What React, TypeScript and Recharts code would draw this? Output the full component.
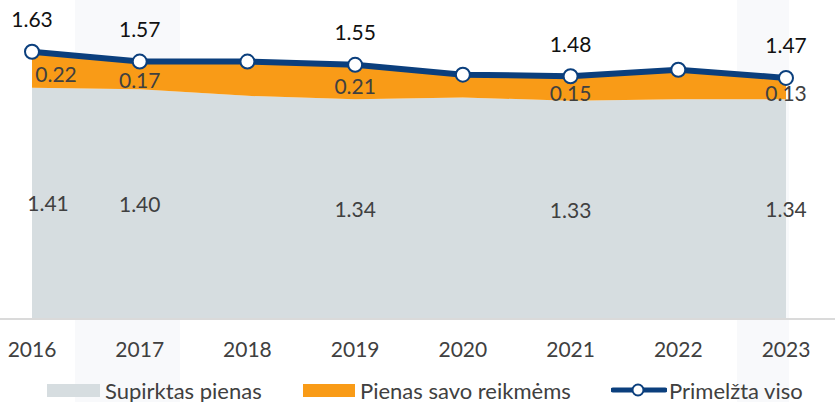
import { ComposedChart, Area, Line, XAxis, YAxis, LabelList, Legend } from "recharts"

const years = ["2016", "2017", "2018", "2019", "2020", "2021", "2022", "2023"]
const supirktas = [1.41, 1.4, 1.36, 1.34, 1.35, 1.33, 1.34, 1.34]
const savoReikmems = [0.22, 0.17, 0.21, 0.21, 0.14, 0.15, 0.18, 0.13]
const primelzta = [1.63, 1.57, 1.57, 1.55, 1.49, 1.48, 1.52, 1.47]
const labeledYears = ["2016", "2017", "2019", "2021", "2023"]

const data = years.map((year, i) => ({
  year,
  supirktas: supirktas[i],
  savo: savoReikmems[i],
  viso: primelzta[i],
}))

const GRAY = "#d6dde0"
const ORANGE = "#f99b17"
const BLUE = "#0b3f7d"
const TEXT = "#404040"
const FONT = "Lato, 'Open Sans', sans-serif"

const showLabel = (index: any) => index === undefined || labeledYears.includes(years[index])

const totalLabel = (props: any) => {
  const { x, y, index, value } = props
  if (!showLabel(index)) return null
  return (
    <text x={x} y={y - 33} textAnchor="middle" dominantBaseline="central" fontSize={21} fill="#111">
      {Number(value).toFixed(2)}
    </text>
  )
}

// first label sits a bit to the right, like in the original
const innerLabel = (shift: number, dy: number) => (props: any) => {
  const { x, y, index, value } = props
  if (!showLabel(index)) return null
  return (
    <text
      x={index === 0 ? x + shift : x}
      y={y + dy}
      textAnchor="middle"
      dominantBaseline="central"
      fontSize={21}
      fill={TEXT}
    >
      {Number(value).toFixed(2)}
    </text>
  )
}

const itemStyle = (left: number): React.CSSProperties => ({
  position: "absolute",
  left,
  top: 0,
  height: 24,
  display: "flex",
  alignItems: "center",
  whiteSpace: "nowrap",
})

const renderLegend = () => (
  <div style={{ position: "relative", height: 24, fontSize: 22, color: TEXT, fontFamily: FONT }}>
    <div style={{ ...itemStyle(47), gap: 5 }}>
      <div style={{ width: 53, height: 13, background: GRAY }}></div>
      <span>Supirktas pienas</span>
    </div>
    <div style={{ ...itemStyle(303), gap: 5 }}>
      <div style={{ width: 52, height: 13, background: ORANGE }}></div>
      <span>Pienas savo reikmėms</span>
    </div>
    <div style={{ ...itemStyle(611), gap: 2 }}>
      <svg width={56} height={14}>
        <line x1={2} y1={7} x2={54} y2={7} stroke={BLUE} strokeWidth={5} strokeLinecap="round" />
        <circle cx={27} cy={7} r={5.5} fill="#fff" stroke={BLUE} strokeWidth={2} />
      </svg>
      <span>Primelžta viso</span>
    </div>
  </div>
)

export default function App() {
  return (
    <div style={{ position: "relative", width: 835, height: 402, background: "#fff", fontFamily: FONT }}>
      <style>{`body{margin:0}`}</style>
      <div style={{ position: "absolute", left: 75, top: 0, width: 105, height: 402, background: "#f8f9fb" }}></div>
      <div style={{ position: "absolute", left: 737, top: 0, width: 52, height: 402, background: "#f8f9fb" }}></div>
      <div style={{ position: "absolute", left: 0, top: 318, width: 835, height: 2, background: "#dadada" }}></div>
      <div style={{ position: "absolute", left: 0, top: 0 }}>
        <ComposedChart
          width={835}
          height={402}
          data={data}
          margin={{ top: 24, right: 49, left: 32, bottom: 0 }}
          style={{ fontFamily: FONT }}
        >
          <XAxis
            dataKey="year"
            scale="point"
            padding={{ left: 0, right: 0 }}
            axisLine={false}
            tickLine={false}
            tickSize={0}
            tickMargin={24}
            height={60}
            tick={{ fill: TEXT, fontSize: 21 }}
          />
          <YAxis hide domain={[0, 1.8]} />
          <Area
            type="linear"
            dataKey="supirktas"
            stackId="a"
            fill={GRAY}
            fillOpacity={1}
            stroke="none"
            isAnimationActive={false}
          />
          <Area
            type="linear"
            dataKey="savo"
            stackId="a"
            fill={ORANGE}
            fillOpacity={1}
            stroke="none"
            isAnimationActive={false}
          />
          {/* invisible helpers to place the values in the middle of each band */}
          <Line
            dataKey={(d: any) => d.supirktas / 2}
            stroke="none"
            dot={false}
            activeDot={false}
            legendType="none"
            isAnimationActive={false}
          >
            <LabelList dataKey="supirktas" content={innerLabel(16, 0)} />
          </Line>
          <Line
            dataKey={(d: any) => d.supirktas + d.savo / 2}
            stroke="none"
            dot={false}
            activeDot={false}
            legendType="none"
            isAnimationActive={false}
          >
            <LabelList dataKey="savo" content={innerLabel(24, 4)} />
          </Line>
          <Line
            type="linear"
            dataKey="viso"
            stroke={BLUE}
            strokeWidth={6}
            dot={{ r: 7, fill: "#fff", stroke: BLUE, strokeWidth: 2 }}
            activeDot={false}
            isAnimationActive={false}
          >
            <LabelList dataKey="viso" content={totalLabel} />
          </Line>
          <Legend
            verticalAlign="bottom"
            content={renderLegend}
            wrapperStyle={{ left: 0, width: 835, height: 24 }}
          />
        </ComposedChart>
      </div>
    </div>
  )
}
